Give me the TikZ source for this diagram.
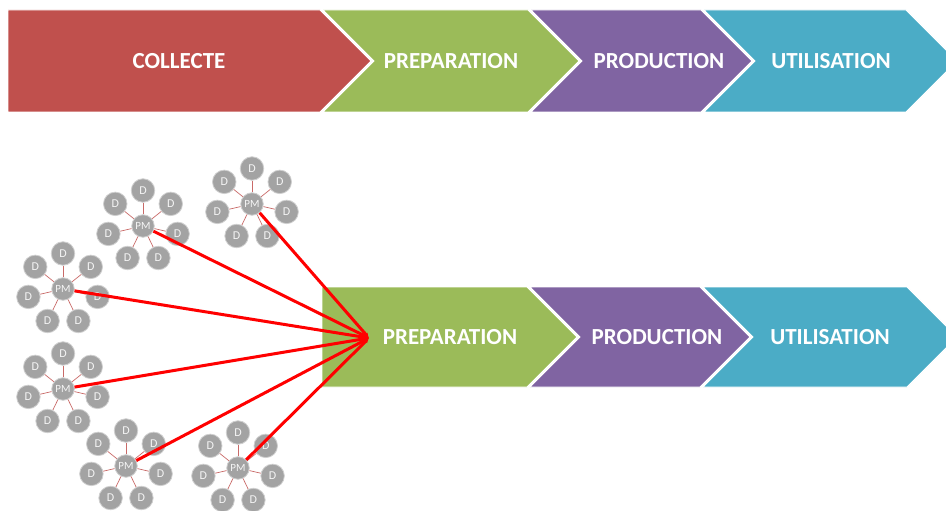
\documentclass[tikz,border=0pt]{standalone}
\usepackage{fontspec}
\setmainfont{Carlito}
\usetikzlibrary{arrows.meta,calc}
\definecolor{cred}{HTML}{C0504D}
\definecolor{cgreen}{HTML}{9BBB59}
\definecolor{cpurple}{HTML}{8064A2}
\definecolor{cteal}{HTML}{4BACC6}
\definecolor{dgray}{HTML}{A3A3A3}
\definecolor{dedge}{HTML}{CFCFCF}
\tikzset{
  chev/.style={draw=white, line width=0.8pt},
  lbl/.style={text=white, inner sep=0pt, font=\fontsize{23}{26}\selectfont\bfseries},
  dnode/.style={circle, fill=dgray, draw=dedge, line width=0.8pt, minimum size=23.5pt, inner sep=0pt, text=white!92!gray, font=\fontsize{12}{14}\selectfont},
  pmnode/.style={dnode, minimum size=22.5pt, font=\fontsize{11}{12}\selectfont},
  spoke/.style={draw=cred!85, line width=0.7pt},
  feed/.style={draw=red, line width=3pt, -{Latex[length=5pt,width=5pt]}}
}
\begin{document}
\begin{tikzpicture}[x=1pt,y=-1pt]
\useasboundingbox (0,0) rectangle (946,511);
\fill[white] (0,0) rectangle (946,511);
\begin{scope}
\clip (0,0) rectangle (946,511);
% top row
\fill[cred,chev]    (8,10) -- (320,10) -- (371,61) -- (320,112) -- (8,112) -- cycle;
\fill[cgreen,chev]  (323,10) -- (528,10) -- (579,61) -- (528,112) -- (323,112) -- (374,61) -- cycle;
\fill[cpurple,chev] (531,10) -- (701,10) -- (752,61) -- (701,112) -- (531,112) -- (582,61) -- cycle;
\fill[cteal,chev]   (704,10) -- (906,10) -- (957,61) -- (906,112) -- (704,112) -- (755,61) -- cycle;
% bottom row
\fill[cgreen,chev]  (322,287) -- (527,287) -- (577,337) -- (527,387) -- (322,387) -- cycle;
\fill[cpurple,chev] (530,287) -- (700,287) -- (750,337) -- (700,387) -- (530,387) -- (580,337) -- cycle;
\fill[cteal,chev]   (703,287) -- (907,287) -- (957,337) -- (907,387) -- (703,387) -- (753,337) -- cycle;
\end{scope}
\node[lbl] (collecte) at (179,61) {COLLECTE};
\node[lbl] (prep1) at (451,61) {PREPARATION};
\node[lbl] (prod1) at (659,61) {PRODUCTION};
\node[lbl] (util1) at (831,61) {UTILISATION};
\node[lbl] (prep2) at (450,337) {PREPARATION};
\node[lbl] (prod2) at (657,337) {PRODUCTION};
\node[lbl] (util2) at (830,337) {UTILISATION};
% clusters
\foreach \i/\x/\y in {1/143/226, 2/252/204, 3/63/289, 4/63/389, 5/126/466, 6/238/468} {
  \node[pmnode] (pm\i) at (\x,\y) {PM};
  \foreach \k in {0,...,6} {
    \node[dnode] (d\i\k) at ($(\x,\y)+({-90+\k*360/7}:35.5)$) {D};
    \draw[spoke] (pm\i) -- (d\i\k);
  }
}
\coordinate (tip) at (369,338);
\foreach \i in {1,...,6} {
  \draw[feed] (pm\i) -- (tip);
}
\end{tikzpicture}
\end{document}
